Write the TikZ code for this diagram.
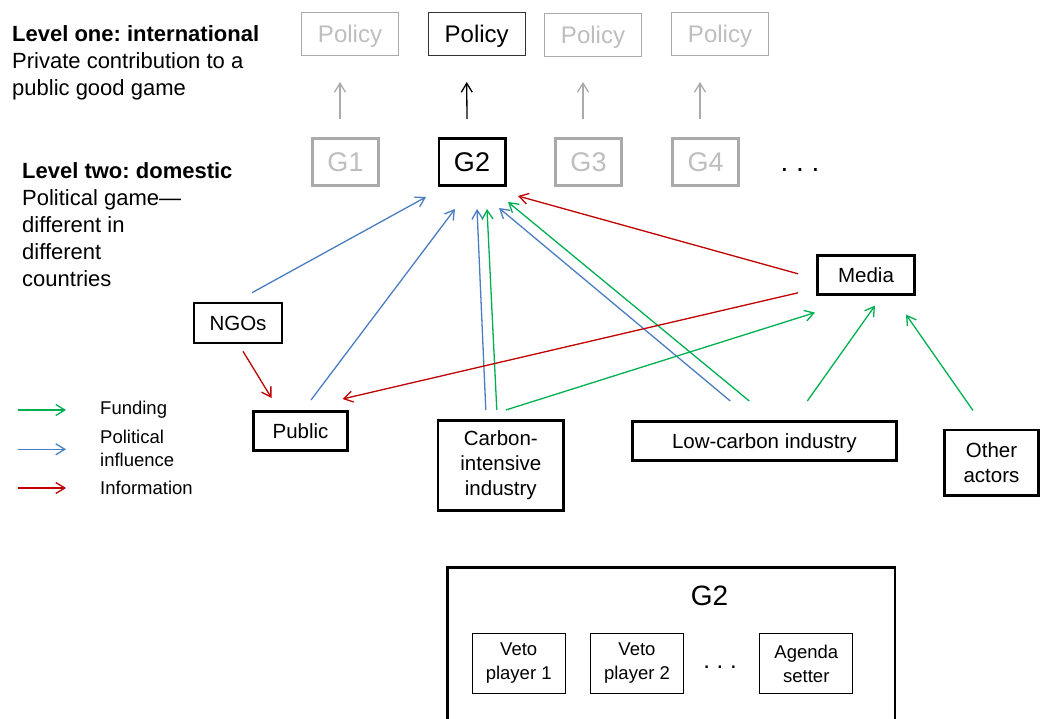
\documentclass[tikz,border=0pt]{standalone}
\usepackage{fontspec}
\setmainfont{Liberation Sans}
\usetikzlibrary{arrows.meta}
\usetikzlibrary{positioning}
\frenchspacing

\definecolor{fundgreen}{RGB}{0,176,80}
\definecolor{polblue}{RGB}{74,126,193}
\definecolor{infored}{RGB}{192,0,0}
\definecolor{fadeline}{RGB}{170,170,170}
\definecolor{fadetext}{RGB}{190,190,190}

\tikzset{
  box/.style={draw, inner sep=0pt, align=center},
  actor/.style={box, line width=2.6pt, font=\fontsize{20.5}{25}\selectfont},
  game/.style={box, line width=2.6pt, minimum width=66.4pt, minimum height=47.4pt, font=\fontsize{27}{30}\selectfont},
  policybox/.style={box, line width=1.2pt, minimum width=96.8pt, minimum height=42.8pt, text depth=0pt, font=\fontsize{24}{28}\selectfont},
  player/.style={box, line width=1pt, minimum width=93pt, minimum height=60.6pt, font=\fontsize{18.5}{24}\selectfont},
  faded/.style={draw=fadeline, text=fadetext},
  blurb/.style={inner sep=0pt, align=left, font=\fontsize{22}{27}\selectfont},
  keytext/.style={inner sep=0pt, align=left, font=\fontsize{18.5}{23}\selectfont},
  link/.style={-{Straight Barb[length=9pt,width=11pt]}, line width=1.3pt},
  fund/.style={link, fundgreen},
  influence/.style={link, polblue},
  inform/.style={link, infored},
}

\begin{document}
\begin{tikzpicture}[x=1pt, y=-1pt]
  \clip (0,0) rectangle (1041,719);
  \fill[white] (0,0) rectangle (1041,719);

  \node[blurb, anchor=north west] (lvlone) at (12,25) {\textbf{Level one: international}\\Private contribution to a\\public good game};
  \node[blurb, anchor=north west] (lvltwo) at (22,162) {\textbf{Level two: domestic}\\Political game—\\different in\\different\\countries};

  \node[policybox, faded] (p1) at (350,34) {Policy};
  \node[policybox, draw=black!80] (p2) at (476.7,34) {Policy};
  \node[policybox, faded] (p3) at (593,35) {Policy};
  \node[policybox, faded] (p4) at (720,34) {Policy};

  \node[game, faded] (g1) at (345.5,162) {G1};
  \node[game] (g2) at (472,162) {G2};
  \node[game, faded] (g3) at (588.5,162) {G3};
  \node[game, faded] (g4) at (705.5,162) {G4};
  \node[anchor=base, inner sep=0pt, font=\fontsize{28}{30}\selectfont] (more) at (800,172) {. . .};

  \draw[link, fadeline] ([shift={(-5.5,-18)}]g1.north) -- ([shift={(-10,26)}]p1.south);
  \draw[link, black] ([shift={(-5,-18)}]g2.north) -- ([shift={(-10,26)}]p2.south);
  \draw[link, fadeline] ([shift={(-5.5,-18)}]g3.north) -- ([shift={(-10,25)}]p3.south);
  \draw[link, fadeline] ([shift={(-5.5,-18)}]g4.north) -- ([shift={(-20,26)}]p4.south);

  \node[actor, minimum width=97.4pt, minimum height=39pt] (media) at (866,274.8) {Media};
  \node[actor, minimum width=88pt, minimum height=40pt] (ngos) at (238,323) {NGOs};
  \node[actor, minimum width=94.4pt, minimum height=39.4pt] (public) at (300.5,431) {Public};
  \node[actor, minimum width=125.4pt, minimum height=90pt] (cii) at (500.8,465.3) {Carbon-\\intensive\\industry};
  \node[actor, minimum width=264pt, minimum height=39pt, text depth=0pt] (lci) at (764.3,440.8) {Low-carbon industry};
  \node[actor, minimum width=94.4pt, minimum height=65.4pt] (other) at (991.5,462.5) {Other\\actors};

  % political influence
  \draw[influence] ([shift={(14,-9)}]ngos.north) -- ([shift={(-46,10)}]g2.south);
  \draw[influence] ([shift={(10.5,-10)}]public.north) -- ([shift={(-17,22)}]g2.south);
  \draw[influence] ([shift={(-15,-9)}]cii.north) -- ([shift={(5,22)}]g2.south);
  \draw[influence] ([shift={(-34,-19)}]lci.north) -- ([shift={(27,21)}]g2.south);
  % funding
  \draw[fund] ([shift={(-4,-9)}]cii.north) -- ([shift={(15,22)}]g2.south);
  \draw[fund] ([shift={(-15,-19)}]lci.north) -- ([shift={(36,15)}]g2.south);
  \draw[fund] ([shift={(5,-9)}]cii.north) -- ([shift={(-51,17)}]media.south);
  \draw[fund] ([shift={(43,-19)}]lci.north) -- ([shift={(9,10)}]media.south);
  \draw[fund] ([shift={(-18.5,-18)}]other.north) -- ([shift={(40,19)}]media.south);
  % information
  \draw[inform] ([shift={(-18,-1)}]media.west) -- ([shift={(46,9)}]g2.south);
  \draw[inform] ([shift={(-18,18)}]media.west) -- ([shift={(42,-11)}]public.north);
  \draw[inform] ([shift={(5,7)}]ngos.south) -- ([shift={(-29,-12)}]public.north);

  % legend
  \node[keytext, anchor=west] (kfund) at (100,410) {Funding};
  \node[keytext, anchor=west] (kinfl) at (100,448.5) {Political\\influence};
  \node[keytext, anchor=west] (kinfo) at (100,488) {Information};
  \draw[fund] ([shift={(-82,0)}]kfund.west) -- ([shift={(-34,0)}]kfund.west);
  \draw[influence] ([shift={(-82,0.8)}]kinfl.west) -- ([shift={(-34,0.8)}]kinfl.west);
  \draw[inform] ([shift={(-82,0)}]kinfo.west) -- ([shift={(-34,0)}]kinfo.west);

  % inside G2
  \node[box, line width=2.6pt, minimum width=447.4pt, minimum height=170pt, anchor=north west] (g2big) at (446.3,566.3) {};
  \node[anchor=base, inner sep=0pt, font=\fontsize{28}{30}\selectfont] (g2name) at (709.5,605) {G2};
  \node[player] (veto1) at (518.7,663.5) {Veto\\player 1};
  \node[player] (veto2) at (637,663.5) {Veto\\player 2};
  \node[anchor=base, inner sep=0pt, font=\fontsize{24}{26}\selectfont] (moreplayers) at (720,668) {. . .};
  \node[player] (agenda) at (806.3,663.5) {Agenda\\setter};
\end{tikzpicture}
\end{document}
